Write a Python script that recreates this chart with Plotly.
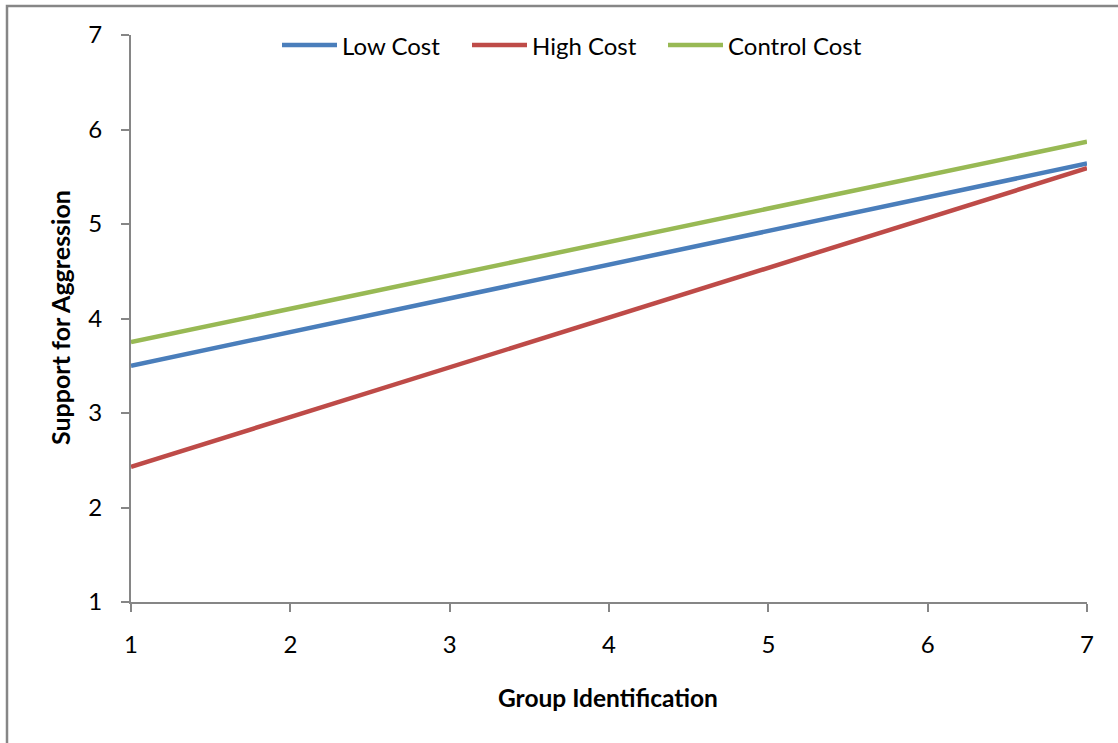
import plotly.graph_objects as go

# Simple slopes: support for aggression across group identification
group_identification = [1, 7]
low_cost = [3.50, 5.64]
high_cost = [2.43, 5.59]
control_cost = [3.75, 5.87]

series_names = ["Low Cost", "High Cost", "Control Cost"]
series_values = [low_cost, high_cost, control_cost]
series_colors = ["#4A7EBB", "#BE4B48", "#98B954"]

x_ticks = [1, 2, 3, 4, 5, 6, 7]
y_ticks = [1, 2, 3, 4, 5, 6, 7]

W, H = 1118, 743
FONT = "Lato"
AXIS_GREY = "#868686"

fig = go.Figure()
for name, vals, col in zip(series_names, series_values, series_colors):
    fig.add_trace(go.Scatter(
        x=group_identification, y=vals, mode="lines", name=name,
        line=dict(color=col, width=4.5), showlegend=False,
    ))

# plot area in pixel terms, converted to paper fractions
px_l, px_r, px_t, px_b = 131, 1087, 35, 602
fig.update_layout(
    width=W, height=H,
    margin=dict(l=0, r=0, t=0, b=0, pad=0),
    paper_bgcolor="white", plot_bgcolor="white",
    font=dict(family=FONT, size=24, color="black"),
    xaxis=dict(
        domain=[px_l / W, px_r / W], range=[1, 7], automargin=False,
        tickvals=x_ticks, ticks="outside", ticklen=8, tickwidth=2, tickcolor=AXIS_GREY,
        showline=True, linecolor=AXIS_GREY, linewidth=2, showgrid=False, zeroline=False,
        ticklabelstandoff=12, tickfont=dict(family=FONT, size=24),
    ),
    yaxis=dict(
        domain=[1 - px_b / H, 1 - px_t / H], range=[1, 7], automargin=False,
        tickvals=y_ticks, ticks="outside", ticklen=8, tickwidth=2, tickcolor=AXIS_GREY,
        showline=True, linecolor=AXIS_GREY, linewidth=2, showgrid=False, zeroline=False,
        ticklabelstandoff=14, tickfont=dict(family=FONT, size=24),
    ),
)

# axis titles
fig.add_annotation(x=608 / W, y=1 - 697 / H, xref="paper", yref="paper",
                   xanchor="center", yanchor="middle",
                   text="<b>Group Identification</b>", showarrow=False,
                   font=dict(family=FONT, size=24.5))
fig.add_annotation(x=60 / W, y=1 - 318 / H, xref="paper", yref="paper",
                   xanchor="center", yanchor="middle",
                   text="<b>Support for Aggression</b>", showarrow=False, textangle=-90,
                   font=dict(family=FONT, size=25))

# legend row along the top
legend_line_x = [282, 472, 668]
legend_y = 45
for name, col, lx in zip(series_names, series_colors, legend_line_x):
    fig.add_shape(type="line", xref="paper", yref="paper",
                  x0=lx / W, x1=(lx + 55) / W, y0=1 - legend_y / H, y1=1 - legend_y / H,
                  line=dict(color=col, width=4.5))
    fig.add_annotation(x=(lx + 58) / W, y=1 - legend_y / H, xref="paper", yref="paper",
                       text=name, showarrow=False, xanchor="left", yanchor="middle",
                       font=dict(family=FONT, size=24))

# chart-area border
fig.add_shape(type="rect", xref="paper", yref="paper",
              x0=7 / W, x1=1.2, y0=-0.2, y1=1 - 6 / H,
              line=dict(color=AXIS_GREY, width=2.5), layer="below")

fig.write_html("out.html")
